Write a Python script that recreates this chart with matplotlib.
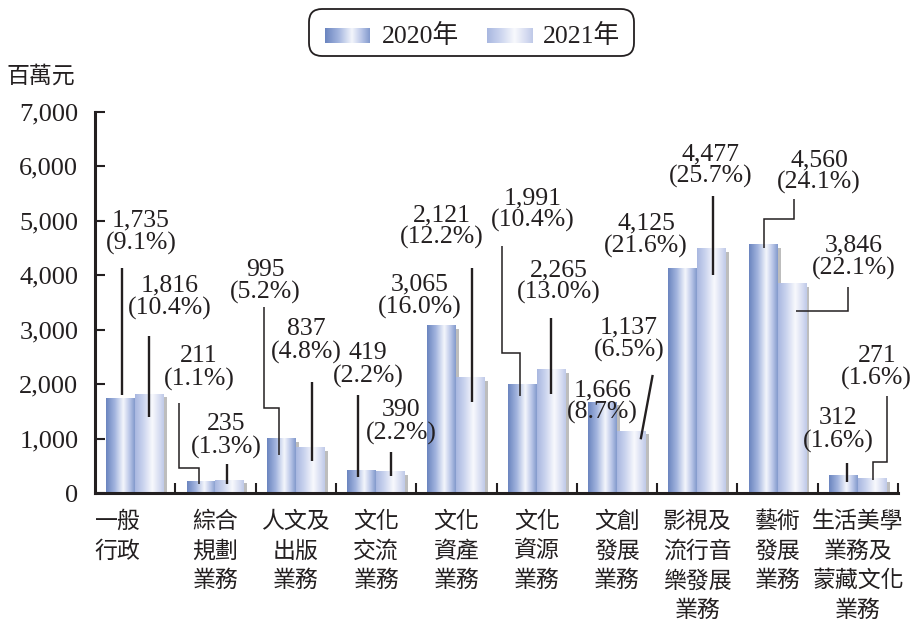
import numpy as np
import matplotlib
matplotlib.use("Agg")
import matplotlib.pyplot as plt
from matplotlib.colors import LinearSegmentedColormap
from matplotlib.patches import FancyBboxPatch
from matplotlib.transforms import offset_copy

# ---------------- data ----------------
categories = ["一般\n行政", "綜合\n規劃\n業務", "人文及\n出版\n業務", "文化\n交流\n業務",
              "文化\n資產\n業務", "文化\n資源\n業務", "文創\n發展\n業務",
              "影視及\n流行音\n樂發展\n業務", "藝術\n發展\n業務", "生活美學\n業務及\n蒙藏文化\n業務"]
v2020 = [1735, 211, 995, 419, 3065, 1991, 1666, 4125, 4560, 312]
v2021 = [1816, 235, 837, 390, 2121, 2265, 1137, 4477, 3846, 271]
p2020 = [9.1, 1.1, 5.2, 2.2, 16.0, 10.4, 8.7, 21.6, 24.1, 1.6]
p2021 = [10.4, 1.3, 4.8, 2.2, 12.2, 13.0, 6.5, 25.7, 22.1, 1.6]
series_names = ["2020年", "2021年"]
y_ticks = [0, 1000, 2000, 3000, 4000, 5000, 6000, 7000]
unit_label = "百萬元"

# ---------------- layout (label positions / leader paths, data coords) ----------------
lab2020_xy = [(0.073, 4785), (0.795, 2299), (1.623, 3877), (2.900, 2354), (3.547, 3620),
              (4.948, 5198), (5.820, 1681), (6.362, 4739), (8.516, 5901), (8.753, 1161)]
lab2021_xy = [(0.428, 3593), (1.131, 1051), (2.128, 2794), (3.317, 1308), (3.821, 4892),
              (5.278, 3877), (6.150, 2831), (7.171, 6006), (8.952, 4327), (9.235, 2308)]
lead2020 = [[(-0.167, 4134), (-0.167, 1804)],
            [(0.550, 1662), (0.550, 459), (0.799, 459), (0.799, 171)],
            [(1.605, 3424), (1.605, 1560), (1.795, 1560), (1.795, 703)],
            [(2.771, 1804), (2.771, 305)],
            None,
            [(4.572, 4538), (4.572, 2569), (4.793, 2569), (4.793, 1785)],
            None,
            None,
            [(8.205, 5394), (8.205, 5033), (7.831, 5033), (7.831, 4495)],
            [(8.869, 550), (8.869, 213)]]
lead2021 = [[(0.176, 2886), (0.176, 1406)],
            [(1.140, 538), (1.140, 171)],
            [(2.199, 2048), (2.199, 598)],
            [(3.186, 763), (3.186, 317)],
            [(4.191, 4128), (4.191, 1681)],
            [(5.179, 3211), (5.179, 1822)],
            [(6.445, 2171), (6.296, 991)],
            [(7.192, 5455), (7.192, 4006)],
            [(8.881, 3791), (8.881, 3350), (8.230, 3350)],
            [(9.367, 1785), (9.367, 580), (9.185, 580), (9.185, 244)]]
cat_label_dx = [-0.22, 0, 0, 0, 0, 0, 0, 0, 0, 0]

# ---------------- style ----------------
SERIF = ["Liberation Serif", "Noto Sans CJK TC"]
CJK = ["Noto Sans CJK TC", "DejaVu Sans"]
INK = "#231f20"
NUM_FS = 18.5
CJK_FS = 16.5

cmap2020 = LinearSegmentedColormap.from_list("c20", [
    (0.0, "#6a84bf"), (0.3, "#a2b4de"), (0.6, "#f4f6fc"), (0.82, "#b8c5e7"), (1.0, "#8299cc")])
cmap2021 = LinearSegmentedColormap.from_list("c21", [
    (0.0, "#a8b7e0"), (0.3, "#ccd5ef"), (0.6, "#f8f9fd"), (0.85, "#d6dcf1"), (1.0, "#bfc9e8")])
grad = np.linspace(0, 1, 256).reshape(1, -1)

fig = plt.figure(figsize=(9.15, 6.22), dpi=100)
ax = fig.add_axes([95 / 915, 1 - 493.3 / 622, (898 - 95) / 915, (493.3 - 111.7) / 622])

x = np.arange(len(categories))
w = 0.36
shadow_tr = offset_copy(ax.transData, fig=fig, x=3, y=-3, units="dots")

for k, (vals, cm) in enumerate([(v2020, cmap2020), (v2021, cmap2021)]):
    offs = -w / 2 if k == 0 else w / 2
    # shadow bars (offset copy of the data transform)
    ax.bar(x + offs, vals, width=w, facecolor="#bdbdbd", edgecolor="none",
           transform=shadow_tr, zorder=1 + k)
    bars = ax.bar(x + offs, vals, width=w, facecolor="none", edgecolor="none", zorder=1 + k)
    for b in bars:
        x0, wd, h = b.get_x(), b.get_width(), b.get_height()
        ax.imshow(grad, cmap=cm, extent=[x0, x0 + wd, 0, h], aspect="auto",
                  interpolation="bilinear", zorder=1.5 + k)

# labels & leaders
for vals, pcts, labs, leads in [(v2020, p2020, lab2020_xy, lead2020),
                                (v2021, p2021, lab2021_xy, lead2021)]:
    for v, p, (lx, ly), ld in zip(vals, pcts, labs, leads):
        ax.text(lx, ly, f"{v:,}\n({p:.1f}%)", ha="center", va="center", multialignment="center",
                fontsize=NUM_FS, family=SERIF, color=INK, linespacing=1.0, zorder=6)
        if ld is not None:
            xs = [pt[0] for pt in ld]
            ys = [pt[1] for pt in ld]
            ax.plot(xs, ys, color=INK, lw=1.7 if len(ld) == 2 else 1.1, zorder=5,
                    solid_capstyle="butt", solid_joinstyle="miter")

ax.set_xlim(-0.5, len(categories) - 0.5)
ax.set_ylim(0, 7000)
ax.set_yticks(y_ticks)
ax.set_yticklabels([f"{t:,}" for t in y_ticks], family=SERIF, fontsize=19, color=INK)
ax.tick_params(axis="y", direction="in", length=7.5, width=1.5, pad=12, colors=INK)
ax.set_xticks(x)
ax.set_xticklabels([])
ax.set_xticks(np.arange(len(categories)) + 0.5, minor=True)
ax.tick_params(axis="x", which="major", length=0)
ax.tick_params(axis="x", which="minor", direction="in", length=7.5, width=1.5, colors=INK)
for i, c in enumerate(categories):
    ax.text(i + cat_label_dx[i], -300, c, ha="center", va="top", multialignment="center",
            fontsize=CJK_FS, family=CJK, color=INK, linespacing=1.38)
for s in ["top", "right"]:
    ax.spines[s].set_visible(False)
for s in ["left", "bottom"]:
    ax.spines[s].set_linewidth(2.2)
    ax.spines[s].set_color(INK)
ax.patch.set_alpha(0)

fig.text(41 / 915, 1 - 76 / 622, unit_label, ha="center", va="center", fontsize=CJK_FS,
         family=CJK, color=INK)

# legend overlay (pixel coords)
lg = fig.add_axes([0, 0, 1, 1], zorder=10)
lg.axis("off")
lg.patch.set_alpha(0)
box = FancyBboxPatch((309, 9), 325, 47, boxstyle="round,pad=0,rounding_size=13",
                     facecolor="white", edgecolor=INK, linewidth=1.3, zorder=1)
lg.add_patch(box)
leg_items = [(325, 370, 382, series_names[0], cmap2020), (487, 533, 543, series_names[1], cmap2021)]
for sx0, sx1, tx, name, cm in leg_items:
    lg.imshow(grad, cmap=cm, extent=[sx0, sx1, 43, 28], aspect="auto",
              interpolation="bilinear", zorder=3)
    lg.text(tx, 36, name, ha="left", va="center", fontsize=NUM_FS, family=SERIF, color=INK,
            zorder=4)
lg.set_xlim(0, 915)
lg.set_ylim(622, 0)

fig.savefig("out.png", dpi=100)
